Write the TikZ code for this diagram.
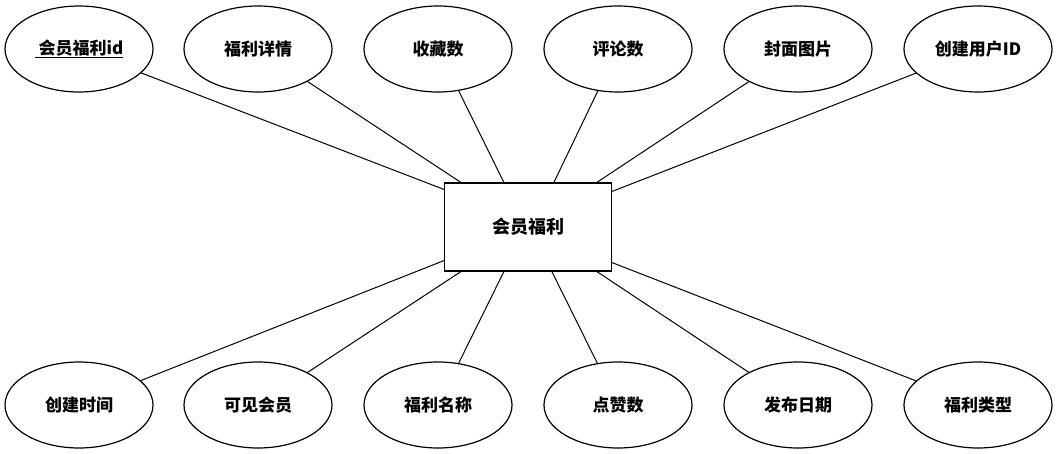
\documentclass[tikz,border=0pt]{standalone}
\usepackage{fontspec}
\newfontfamily\cjk{Noto Sans CJK SC}
\usetikzlibrary{calc,positioning,shapes.geometric}

\tikzset{
  attr/.style={ellipse, draw, line width=1.2pt, minimum width=148pt, minimum height=86pt, font=\cjk\bfseries\fontsize{17}{20}\selectfont},
  ent/.style={rectangle, draw, line width=1.2pt, minimum width=167pt, minimum height=88pt, font=\cjk\bfseries\fontsize{18}{21}\selectfont},
  conn/.style={line width=1pt}
}

\begin{document}
\begin{tikzpicture}[x=1pt,y=-1pt]
\useasboundingbox (0,0) rectangle (1057,454);

\node[ent] (cMain) at (528,227) {会员福利};

% attributes above
\foreach \n/\x/\t in
{   a1/79/{\underline{\ 会员福利id}},
    a2/258/福利详情,
    a3/438/收藏数,
    a4/618/评论数,
    a5/798/封面图片,
    a6/978/创建用户ID
}
{
    \node[attr] (\n) at (\x,49) {\t};
};

% attributes below
\foreach \n/\x/\t in
{   b1/79/创建时间,
    b2/258/可见会员,
    b3/438/福利名称,
    b4/618/点赞数,
    b5/798/发布日期,
    b6/978/福利类型
}
{
    \node[attr] (\n) at (\x,405) {\t};
};

% end points on the entity
\coordinate (cT1) at ($(cMain.north west)+(0,7)$);
\coordinate (cT2) at ($(cMain.north west)+(17,0)$);
\coordinate (cT3) at ($(cMain.north west)+(60,0)$);
\coordinate (cT4) at ($(cMain.north west)+(110,0)$);
\coordinate (cT5) at ($(cMain.north west)+(153,0)$);
\coordinate (cT6) at ($(cMain.north east)+(0,9)$);
\coordinate (cB1) at ($(cMain.south west)+(0,-11)$);
\coordinate (cB2) at ($(cMain.south west)+(17,0)$);
\coordinate (cB3) at ($(cMain.south west)+(60,0)$);
\coordinate (cB4) at ($(cMain.south west)+(108,0)$);
\coordinate (cB5) at ($(cMain.south west)+(153,0)$);
\coordinate (cB6) at ($(cMain.south east)+(0,-9)$);

\foreach \i in {1,...,6}
{
    \draw[conn] (a\i) -- (cT\i);
    \draw[conn] (b\i) -- (cB\i);
};

\end{tikzpicture}
\end{document}
